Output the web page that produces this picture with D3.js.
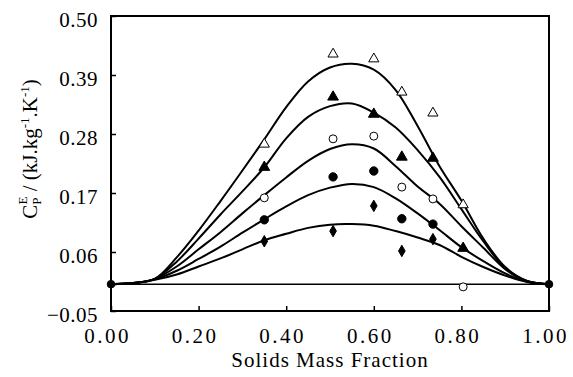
<!DOCTYPE html>
<html><head><meta charset="utf-8">
<script src="https://cdn.jsdelivr.net/npm/d3@7"></script>
<style>body{margin:0;background:#fff}svg{display:block}</style>
</head><body><svg id="c" width="573" height="377"></svg>
<script>
// x grid for the fitted curves
const curveX = [0,0.05,0.10,0.15,0.20,0.25,0.30,0.35,0.40,0.45,0.50,0.55,0.60,0.65,0.70,0.75,0.80,0.85,0.90,0.95,1.00];
const curveOpenTri   = [0,0.002,0.010,0.050,0.100,0.155,0.212,0.270,0.330,0.378,0.404,0.411,0.400,0.362,0.295,0.220,0.156,0.085,0.032,0.006,0];
const curveFilledTri = [0,0.002,0.010,0.042,0.085,0.130,0.173,0.218,0.272,0.312,0.332,0.337,0.320,0.292,0.250,0.200,0.140,0.080,0.030,0.006,0];
const curveOpenCirc  = [0,0.002,0.010,0.033,0.065,0.097,0.132,0.166,0.199,0.230,0.252,0.261,0.253,0.220,0.182,0.150,0.108,0.068,0.028,0.005,0];
const curveFilledCirc= [0,0.002,0.009,0.025,0.047,0.070,0.096,0.121,0.145,0.166,0.180,0.187,0.181,0.160,0.132,0.101,0.069,0.043,0.020,0.005,0];
const curveDiamond   = [0,0.002,0.008,0.018,0.033,0.048,0.065,0.082,0.094,0.105,0.111,0.112,0.109,0.099,0.087,0.073,0.051,0.032,0.016,0.004,0];

// measured points
const ptX6 = [0.35,0.507,0.60,0.664,0.735,0.804];
const ptX5 = [0.35,0.507,0.60,0.664,0.735];
const openTri    = [0.261,0.429,0.420,0.358,0.319,0.148];
const filledTri  = [0.218,0.349,0.317,0.237,0.235,0.067];
const openCirc   = [0.161,0.271,0.276,0.181,0.159,-0.005];
const filledCirc = [0.120,0.200,0.211,0.122,0.112];
const diamond    = [0.080,0.099,0.146,0.062,0.084];
const endX = [0,1];
const endY = [0,0];

const xTicks = [0,0.2,0.4,0.6,0.8,1.0];
const yTicks = [-0.05,0.06,0.17,0.28,0.39,0.50];

const FONT = '"Liberation Serif","Times New Roman","DejaVu Serif",serif';
const svg = d3.select("#c");
const L=111, R=549, T=16, B=311;
const x = d3.scaleLinear().domain([0,1]).range([L,R]);
const y = d3.scaleLinear().domain([-0.05,0.5]).range([B,T]);

// frame
svg.append("rect").attr("x",L).attr("y",T).attr("width",R-L).attr("height",B-T)
  .attr("fill","none").attr("stroke","#000").attr("stroke-width",2);

// axes with inward ticks
const xa = svg.append("g").attr("transform",`translate(0,${B})`)
  .call(d3.axisBottom(x).tickValues(xTicks).tickFormat(d3.format(".2f")).tickSizeInner(-5).tickSizeOuter(0).tickPadding(17));
const ya = svg.append("g").attr("transform",`translate(${L},0)`)
  .call(d3.axisLeft(y).tickValues(yTicks).tickFormat(d3.format(".2f")).tickSizeInner(-5).tickSizeOuter(0).tickPadding(13));
[xa,ya].forEach(a=>{a.select(".domain").remove();a.selectAll("line").attr("stroke","#000").attr("stroke-width",1.5);
  a.selectAll("text").attr("fill","#000").style("font-family",FONT).style("font-size","21px");});
xa.selectAll("text").style("letter-spacing","2.5px").attr("dx",-4);
ya.selectAll("text").style("letter-spacing","0.5px").attr("dy","0.5em");

// zero line
svg.append("line").attr("x1",x(0)).attr("x2",x(1)).attr("y1",y(0)).attr("y2",y(0)).attr("stroke","#000").attr("stroke-width",1.5);

// curves
const line = d3.line().x((d,i)=>x(curveX[i])).y(d=>y(d)).curve(d3.curveCatmullRom.alpha(0.5));
[curveOpenTri,curveFilledTri,curveOpenCirc,curveFilledCirc,curveDiamond].forEach(c=>{
  svg.append("path").attr("d",line(c)).attr("fill","none").attr("stroke","#000").attr("stroke-width",2);
});

// markers
function pts(xs,ys,type,fill,size){
  const sym = d3.symbol().type(type).size(size);
  svg.append("g").selectAll("path").data(ys).join("path")
    .attr("transform",(d,i)=>`translate(${x(xs[i])},${y(d)})`)
    .attr("d",sym).attr("fill",fill?"#000":"#fff").attr("stroke","#000").attr("stroke-width",1);
}
pts(ptX6,openTri,d3.symbolTriangle,false,45);
pts(ptX6,filledTri,d3.symbolTriangle,true,50);
pts(ptX6,openCirc,d3.symbolCircle,false,50);
pts(ptX5,filledCirc,d3.symbolCircle,true,55);
pts(ptX5,diamond,d3.symbolDiamond,true,38);
pts(endX,endY,d3.symbolCircle,true,45);

// axis titles
svg.append("text").attr("x",(L+R)/2).attr("y",367).attr("text-anchor","middle")
  .style("font-family",FONT).style("font-size","21px").style("letter-spacing","1px").text("Solids Mass Fraction");
const yt = svg.append("text").attr("transform",`translate(37,149) rotate(-90)`).attr("text-anchor","middle")
  .style("font-family",FONT).style("font-size","21px");
yt.append("tspan").text("C");
yt.append("tspan").style("font-size","13px").attr("dy",4).text("P");
yt.append("tspan").style("font-size","13px").attr("dy",-14).attr("dx",-7).text("E");
yt.append("tspan").attr("dy",10).text(" / (kJ.kg");
yt.append("tspan").style("font-size","13px").attr("dy",-8).text("-1");
yt.append("tspan").attr("dy",8).text(".K");
yt.append("tspan").style("font-size","13px").attr("dy",-8).text("-1");
yt.append("tspan").attr("dy",8).text(")");
</script></body></html>
